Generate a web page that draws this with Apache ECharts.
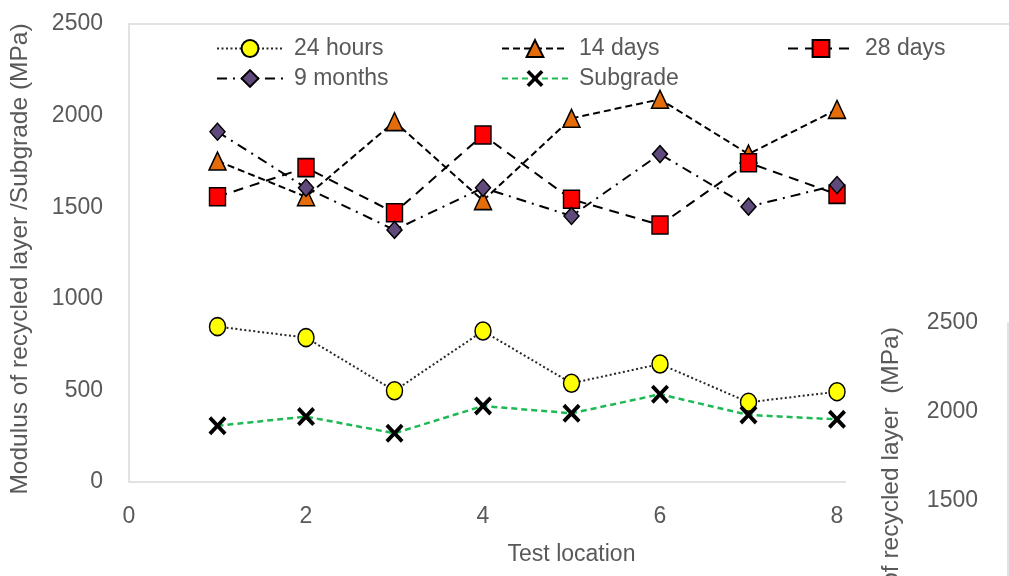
<!DOCTYPE html>
<html>
<head>
<meta charset="utf-8">
<script src="https://cdn.jsdelivr.net/npm/echarts@6/dist/echarts.min.js"></script>
<style>
html,body{margin:0;padding:0;background:#fff;}
#c{width:1009px;height:576px;}
</style>
</head>
<body>
<div id="c"></div>
<script>
// ---- data ----
const testLocations = [1, 2, 3, 4, 5, 6, 7, 8];
const hours24  = [848, 788, 498, 824, 539, 644, 435, 493];
const days14   = [1752, 1557, 1967, 1536, 1985, 2089, 1790, 2034];
const days28   = [1557, 1716, 1470, 1894, 1543, 1403, 1743, 1570];
const months9  = [1912, 1606, 1376, 1606, 1452, 1790, 1503, 1621];
const subgrade = [307, 357, 266, 415, 375, 479, 366, 342];
const seriesNames = ['24 hours', '14 days', '28 days', '9 months', 'Subgrade'];
const xTitle = 'Test location';
const yTitle = 'Modulus of recycled layer /Subgrade (MPa)';
const y2Title = 'of recycled layer  (MPa)';

const FONT = 'Liberation Sans, Arial, sans-serif';
const GREY = '#595959';
const AXIS = '#D9D9D9';
const pairs = arr => arr.map((v, i) => [testLocations[i], v]);
const plain = v => String(v);
const XPATH = 'path://M0,3 L3,0 L10,7 L17,0 L20,3 L13,10 L20,17 L17,20 L10,13 L3,20 L0,17 L7,10 Z';

const chart = echarts.init(document.getElementById('c'), null, {renderer: 'canvas'});

function legendAt(name, left, top) {
  return {
    data: [name], left: left, top: top,
    itemWidth: 66, itemHeight: 21, padding: 0,
    textStyle: {fontFamily: FONT, fontSize: 23, color: GREY, padding: [0, 0, 0, 6]}
  };
}

const option = {
  animation: false,
  backgroundColor: '#fff',
  legend: [
    legendAt(seriesNames[0], 216, 37),
    legendAt(seriesNames[1], 501, 37),
    legendAt(seriesNames[2], 787, 37),
    legendAt(seriesNames[3], 216, 67),
    legendAt(seriesNames[4], 501, 67)
  ],
  grid: [
    {left: 129, top: 24, width: 885, height: 458, show: true, borderColor: AXIS, borderWidth: 1.5,
     containLabel: false, outerBoundsMode: 'none'},
    {left: 1008, top: 323, width: 20, height: 267, show: false, outerBoundsMode: 'none'}
  ],
  xAxis: [
    {
      type: 'value', gridIndex: 0, min: 0, max: 10, interval: 2,
      axisLine: {show: false}, axisTick: {show: false}, splitLine: {show: false},
      axisLabel: {fontFamily: FONT, fontSize: 23, color: GREY, margin: 23, formatter: plain},
      name: xTitle, nameLocation: 'middle', nameGap: 61,
      nameTextStyle: {fontFamily: FONT, fontSize: 23, color: GREY}
    },
    {type: 'value', gridIndex: 1, min: 0, max: 1, show: false}
  ],
  yAxis: [
    {
      type: 'value', gridIndex: 0, min: 0, max: 2500, interval: 500,
      axisLine: {show: false}, axisTick: {show: false}, splitLine: {show: false},
      axisLabel: {fontFamily: FONT, fontSize: 23, color: GREY, margin: 26, formatter: plain},
      name: yTitle, nameLocation: 'middle', nameGap: 96,
      nameTextStyle: {fontFamily: FONT, fontSize: 24.5, color: GREY, padding: [0, 12, 0, 0]}
    },
    {
      type: 'value', gridIndex: 1, min: 1000, max: 2500, interval: 500, z: 120,
      axisLine: {show: true, onZero: false, lineStyle: {color: AXIS, width: 1.5}},
      axisTick: {show: false}, splitLine: {show: false},
      axisLabel: {fontFamily: FONT, fontSize: 23, color: GREY, margin: 30,
                  formatter: v => (v >= 1500 ? String(v) : '')},
      name: y2Title, nameLocation: 'middle', nameGap: 104,
      nameTextStyle: {fontFamily: FONT, fontSize: 24.5, color: GREY}
    }
  ],
  graphic: [
    {type: 'rect', z: 100, shape: {x: 846, y: 300, width: 170, height: 280}, style: {fill: '#fff'}}
  ],
  series: [
    {
      name: seriesNames[0], type: 'line', data: pairs(hours24),
      symbol: 'circle', symbolSize: [16, 18],
      lineStyle: {color: '#262626', width: 2, type: [2, 2.5]},
      itemStyle: {color: '#FFFF00', borderColor: '#000', borderWidth: 1.5}
    },
    {
      name: seriesNames[1], type: 'line', data: pairs(days14),
      symbol: 'triangle', symbolSize: [17, 18],
      lineStyle: {color: '#000', width: 2, type: [7, 4]},
      itemStyle: {color: '#E46C0A', borderColor: '#000', borderWidth: 1.5}
    },
    {
      name: seriesNames[2], type: 'line', data: pairs(days28),
      symbol: 'rect', symbolSize: [16, 18],
      lineStyle: {color: '#000', width: 2, type: [10, 7]},
      itemStyle: {color: '#FF0000', borderColor: '#000', borderWidth: 1.5}
    },
    {
      name: seriesNames[3], type: 'line', data: pairs(months9),
      symbol: 'diamond', symbolSize: [15, 17],
      lineStyle: {color: '#000', width: 2, type: [10, 6, 2, 6]},
      itemStyle: {color: '#604A7B', borderColor: '#000', borderWidth: 1.5}
    },
    {
      name: seriesNames[4], type: 'line', data: pairs(subgrade),
      symbol: XPATH, symbolSize: [18, 19],
      lineStyle: {color: '#1DB954', width: 2.5, type: [6, 4]},
      itemStyle: {color: '#000', borderWidth: 0}
    },
    {
      type: 'line', xAxisIndex: 1, yAxisIndex: 1, data: [], silent: true
    }
  ]
};
chart.setOption(option);
</script>
</body>
</html>
